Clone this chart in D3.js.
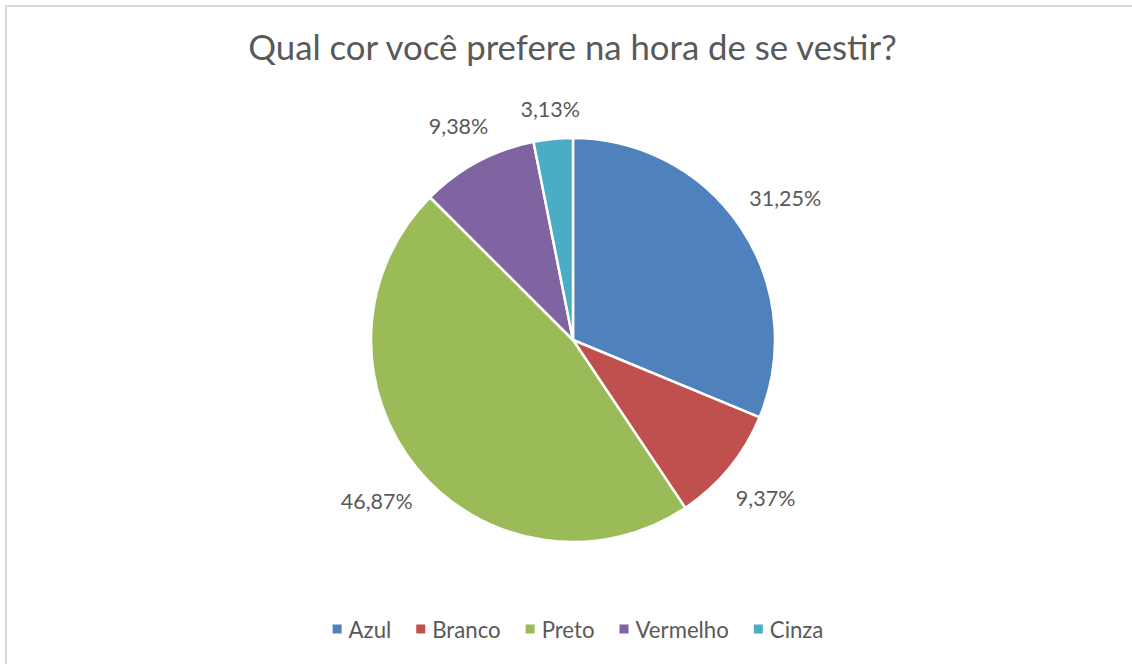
<!DOCTYPE html>
<html><head><meta charset="utf-8">
<script src="https://cdn.jsdelivr.net/npm/d3@7"></script>
<style>body{margin:0;background:#fff}svg{display:block}text{font-family:Lato,"Open Sans",sans-serif;fill:#595959}</style>
</head><body>
<svg id="c" width="1132" height="664"></svg>
<script>
const categories = ["Azul","Branco","Preto","Vermelho","Cinza"];
const values = [31.25, 9.37, 46.87, 9.38, 3.13];
const labels = ["31,25%","9,37%","46,87%","9,38%","3,13%"];
const colors = ["#4F81BD","#C0504D","#9BBB59","#8064A2","#4BACC6"];
const title = "Qual cor você prefere na hora de se vestir?";

const svg = d3.select("#c");
const W = 1132, H = 664;
svg.append("rect").attr("width",W).attr("height",H).attr("fill","#fff");
svg.append("rect").attr("x",6).attr("y",6).attr("width",W+20).attr("height",H+20)
  .attr("fill","none").attr("stroke","#d9d9d9").attr("stroke-width",2);

svg.append("text").attr("x",572.5).attr("y",60).attr("text-anchor","middle")
  .attr("font-size",34.75).text(title);

const cx = 573, cy = 340, r = 202;
const data = categories.map((c,i)=>({c, v:values[i], l:labels[i], col:colors[i]}));
const pie = d3.pie().value(d=>d.v).sort(null);
const arc = d3.arc().innerRadius(0).outerRadius(r);
const g = svg.append("g").attr("transform",`translate(${cx},${cy})`);
const arcs = pie(data);
g.selectAll("path").data(arcs).join("path")
  .attr("d",arc).attr("fill",d=>d.data.col)
  .attr("stroke","#fff").attr("stroke-width",2.5).attr("stroke-linejoin","round");

const fs = 21.5;
arcs.forEach(a=>{
  const t = g.append("text").attr("font-size",fs).attr("text-anchor","middle")
    .attr("dominant-baseline","central").text(a.data.l);
  const w = t.node().getComputedTextLength();
  const h = fs*0.9;
  const m = (a.startAngle+a.endAngle)/2;
  const s = Math.sin(m), c = Math.cos(m);
  const d = r + 18 + Math.abs(s)*w/2 + Math.abs(c)*h/2;
  t.attr("x", s*d).attr("y", -c*d);
});

// legend
const lg = svg.append("g");
const lfs = 22.2, sq = 9, gap1 = 7, gap2 = 25;
let x = 0;
data.forEach(d=>{
  const it = lg.append("g");
  it.append("rect").attr("width",sq).attr("height",sq).attr("y",-sq/2).attr("fill",d.col);
  const t = it.append("text").attr("x",sq+gap1).attr("font-size",lfs).attr("dominant-baseline","central").text(d.c);
  const w = sq+gap1+t.node().getComputedTextLength();
  it.attr("transform",`translate(${x},0)`);
  x += w + gap2;
});
const total = x - gap2;
lg.attr("transform",`translate(${578-total/2},629)`);
</script>
</body></html>
